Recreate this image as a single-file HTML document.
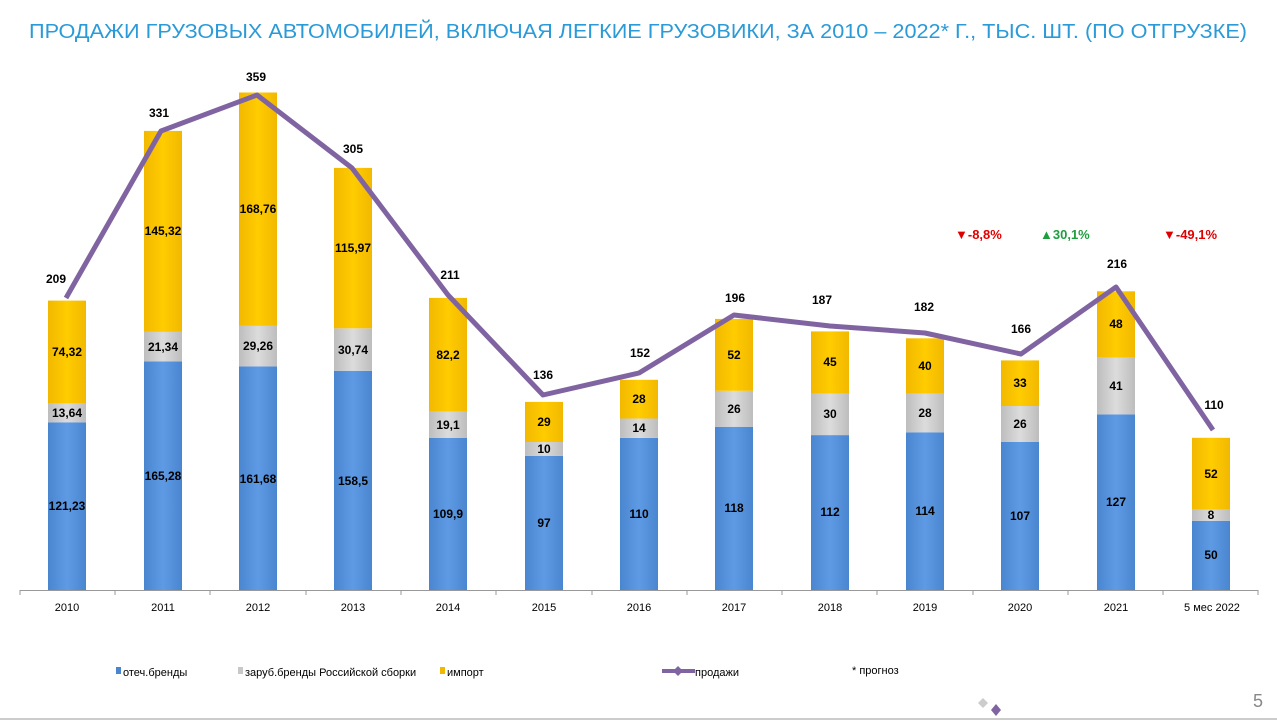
<!DOCTYPE html>
<html><head><meta charset="utf-8"><style>
html,body{margin:0;padding:0;background:#fff;}
svg{display:block;font-family:"Liberation Sans",sans-serif;}
</style></head><body>
<svg width="1277" height="721" viewBox="0 0 1277 721" xmlns="http://www.w3.org/2000/svg">
<defs>
<linearGradient id="gb" x1="0" x2="1"><stop offset="0" stop-color="#4a86d0"/><stop offset="0.5" stop-color="#5f9ae4"/><stop offset="1" stop-color="#4a86d0"/></linearGradient>
<linearGradient id="gg" x1="0" x2="1"><stop offset="0" stop-color="#bdbdbd"/><stop offset="0.5" stop-color="#dcdcdc"/><stop offset="1" stop-color="#bdbdbd"/></linearGradient>
<linearGradient id="gy" x1="0" x2="1"><stop offset="0" stop-color="#f2b800"/><stop offset="0.5" stop-color="#ffcc00"/><stop offset="1" stop-color="#f2b800"/></linearGradient>
</defs>
<text x="638" y="38" text-anchor="middle" font-size="20" fill="#2a9ad8" textLength="1218" lengthAdjust="spacingAndGlyphs">ПРОДАЖИ ГРУЗОВЫХ АВТОМОБИЛЕЙ, ВКЛЮЧАЯ ЛЕГКИЕ ГРУЗОВИКИ, ЗА 2010 – 2022* Г., ТЫС. ШТ. (ПО ОТГРУЗКЕ)</text>

<g stroke="#999" stroke-width="1">
<line x1="20" y1="590.5" x2="1258" y2="590.5"/>
<path d="M20 590v5M115 590v5M210 590v5M306 590v5M401 590v5M496 590v5M592 590v5M687 590v5M782 590v5M877 590v5M973 590v5M1068 590v5M1163 590v5M1258 590v5"/>
</g>

<g>
<!-- x = cx-19 -->
<rect x="48" y="422.3" width="38" height="167.7" fill="url(#gb)"/><rect x="48" y="403.4" width="38" height="18.9" fill="url(#gg)"/><rect x="48" y="300.6" width="38" height="102.8" fill="url(#gy)"/>
<rect x="144" y="361.4" width="38" height="228.6" fill="url(#gb)"/><rect x="144" y="331.9" width="38" height="29.5" fill="url(#gg)"/><rect x="144" y="130.9" width="38" height="201" fill="url(#gy)"/>
<rect x="239" y="366.4" width="38" height="223.6" fill="url(#gb)"/><rect x="239" y="325.9" width="38" height="40.5" fill="url(#gg)"/><rect x="239" y="92.5" width="38" height="233.4" fill="url(#gy)"/>
<rect x="334" y="370.8" width="38" height="219.2" fill="url(#gb)"/><rect x="334" y="328.3" width="38" height="42.5" fill="url(#gg)"/><rect x="334" y="167.9" width="38" height="160.4" fill="url(#gy)"/>
<rect x="429" y="438" width="38" height="152" fill="url(#gb)"/><rect x="429" y="411.6" width="38" height="26.4" fill="url(#gg)"/><rect x="429" y="297.9" width="38" height="113.7" fill="url(#gy)"/>
<rect x="525" y="455.8" width="38" height="134.2" fill="url(#gb)"/><rect x="525" y="442" width="38" height="13.8" fill="url(#gg)"/><rect x="525" y="401.9" width="38" height="40.1" fill="url(#gy)"/>
<rect x="620" y="437.9" width="38" height="152.1" fill="url(#gb)"/><rect x="620" y="418.5" width="38" height="19.4" fill="url(#gg)"/><rect x="620" y="379.8" width="38" height="38.7" fill="url(#gy)"/>
<rect x="715" y="426.8" width="38" height="163.2" fill="url(#gb)"/><rect x="715" y="390.8" width="38" height="36" fill="url(#gg)"/><rect x="715" y="318.9" width="38" height="71.9" fill="url(#gy)"/>
<rect x="811" y="435.1" width="38" height="154.9" fill="url(#gb)"/><rect x="811" y="393.6" width="38" height="41.5" fill="url(#gg)"/><rect x="811" y="331.4" width="38" height="62.2" fill="url(#gy)"/>
<rect x="906" y="432.3" width="38" height="157.7" fill="url(#gb)"/><rect x="906" y="393.6" width="38" height="38.7" fill="url(#gg)"/><rect x="906" y="338.3" width="38" height="55.3" fill="url(#gy)"/>
<rect x="1001" y="442" width="38" height="148" fill="url(#gb)"/><rect x="1001" y="406" width="38" height="36" fill="url(#gg)"/><rect x="1001" y="360.4" width="38" height="45.6" fill="url(#gy)"/>
<rect x="1097" y="414.4" width="38" height="175.6" fill="url(#gb)"/><rect x="1097" y="357.7" width="38" height="56.7" fill="url(#gg)"/><rect x="1097" y="291.3" width="38" height="66.4" fill="url(#gy)"/>
<rect x="1192" y="520.8" width="38" height="69.2" fill="url(#gb)"/><rect x="1192" y="509.7" width="38" height="11.1" fill="url(#gg)"/><rect x="1192" y="437.8" width="38" height="71.9" fill="url(#gy)"/>
</g>

<polyline points="66,298 161,131 257,95 352,168 448,295 543,395 639,373 734,315 830,326 925,333 1021,354 1116,287 1213,430" fill="none" stroke="#8064a2" stroke-width="5" stroke-linejoin="round"/>

<g font-size="12" font-weight="bold" fill="#000" text-anchor="middle">
<text x="67" y="510">121,23</text><text x="67" y="417">13,64</text><text x="67" y="356">74,32</text>
<text x="163" y="480">165,28</text><text x="163" y="351">21,34</text><text x="163" y="235">145,32</text>
<text x="258" y="483">161,68</text><text x="258" y="350">29,26</text><text x="258" y="213">168,76</text>
<text x="353" y="485">158,5</text><text x="353" y="354">30,74</text><text x="353" y="252">115,97</text>
<text x="448" y="518">109,9</text><text x="448" y="429">19,1</text><text x="448" y="359">82,2</text>
<text x="544" y="527">97</text><text x="544" y="453">10</text><text x="544" y="426">29</text>
<text x="639" y="518">110</text><text x="639" y="432">14</text><text x="639" y="403">28</text>
<text x="734" y="512">118</text><text x="734" y="413">26</text><text x="734" y="359">52</text>
<text x="830" y="516">112</text><text x="830" y="418">30</text><text x="830" y="366">45</text>
<text x="925" y="515">114</text><text x="925" y="417">28</text><text x="925" y="370">40</text>
<text x="1020" y="520">107</text><text x="1020" y="428">26</text><text x="1020" y="387">33</text>
<text x="1116" y="506">127</text><text x="1116" y="390">41</text><text x="1116" y="328">48</text>
<text x="1211" y="559">50</text><text x="1211" y="519">8</text><text x="1211" y="478">52</text>
<text x="56" y="283">209</text><text x="159" y="117">331</text><text x="256" y="81">359</text><text x="353" y="153">305</text>
<text x="450" y="279">211</text><text x="543" y="379">136</text><text x="640" y="357">152</text><text x="735" y="302">196</text>
<text x="822" y="304">187</text><text x="924" y="311">182</text><text x="1021" y="333">166</text><text x="1117" y="268">216</text><text x="1214" y="409">110</text>
</g>
<g font-size="13" font-weight="bold">
<text x="955" y="239" fill="#e00000">▼-8,8%</text>
<text x="1040" y="239" fill="#1e9e3e">▲30,1%</text>
<text x="1163" y="239" fill="#e00000">▼-49,1%</text>
</g>

<g font-size="11" fill="#000" text-anchor="middle">
<text x="67" y="611">2010</text><text x="163" y="611">2011</text><text x="258" y="611">2012</text><text x="353" y="611">2013</text>
<text x="448" y="611">2014</text><text x="544" y="611">2015</text><text x="639" y="611">2016</text><text x="734" y="611">2017</text>
<text x="830" y="611">2018</text><text x="925" y="611">2019</text><text x="1020" y="611">2020</text><text x="1116" y="611">2021</text>
<text x="1212" y="611">5 мес 2022</text>
</g>

<g font-size="11" fill="#000">
<rect x="116" y="667" width="5" height="7" fill="#4a86d0"/><text x="123" y="676">отеч.бренды</text>
<rect x="238" y="667" width="5" height="7" fill="#c8c8c8"/><text x="245" y="676">заруб.бренды Российской сборки</text>
<rect x="440" y="667" width="5" height="7" fill="#f2b800"/><text x="447" y="676">импорт</text>
<line x1="662" y1="671" x2="695" y2="671" stroke="#8064a2" stroke-width="4"/><path d="M678 666l5 5-5 5-5-5z" fill="#8064a2"/><text x="695" y="676">продажи</text>
<text x="852" y="674">* прогноз</text>
</g>
<path d="M983 698l5 5-5 5-5-5z" fill="#ccc"/><path d="M996 704l5 6-5 6-5-6z" fill="#8064a2"/>
<text x="1253" y="707" font-size="18" fill="#888">5</text>
<line x1="0" y1="719" x2="1277" y2="719" stroke="#ccc" stroke-width="2"/>
</svg>
</body></html>
